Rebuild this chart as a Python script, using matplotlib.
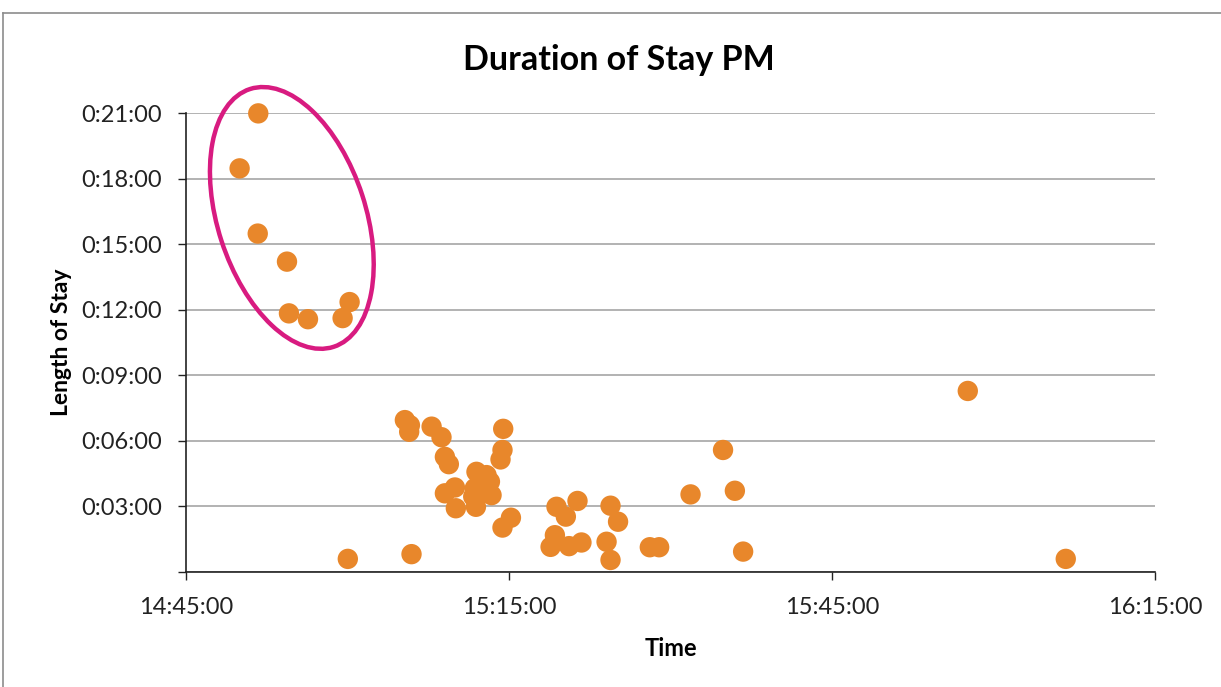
"""Scatter of afternoon arrivals against how long each visit lasted."""

import matplotlib.pyplot as plt
import matplotlib.dates as mdates
import pandas as pd
from matplotlib.patches import Ellipse
from matplotlib.ticker import FuncFormatter, MultipleLocator
from matplotlib.transforms import ScaledTranslation
from matplotlib.lines import Line2D

plt.rcParams["font.family"] = ["Lato", "DejaVu Sans"]

DAY = "2024-01-01 "

# arrival time and length of stay for each visitor
arrival = [
    "14:51:43", "14:49:59", "14:51:40", "14:54:23", "14:54:34", "14:56:20",
    "14:59:33", "15:00:12", "15:00:02",
    "15:05:20", "15:05:48", "15:05:44", "15:07:49", "15:08:44", "15:09:03",
    "15:09:25", "15:14:28", "15:14:24", "15:14:13", "15:11:59", "15:12:55",
    "15:13:14", "15:09:59", "15:09:03", "15:13:23", "15:11:50", "15:11:41",
    "15:10:04", "15:11:56", "15:15:11", "15:14:24", "15:05:57", "15:12:23",
    "15:34:53", "15:31:52", "15:35:59", "15:36:45", "15:19:25", "15:20:17",
    "15:21:22", "15:24:26", "15:25:08", "15:19:16", "15:18:52", "15:20:35",
    "15:21:44", "15:24:04", "15:24:26", "15:28:05", "15:28:57",
    "15:57:37", "16:06:43",
]
stay = [
    "0:20:59", "0:18:28", "0:15:29", "0:14:12", "0:11:50", "0:11:34",
    "0:11:37", "0:12:21", "0:00:36",
    "0:06:57", "0:06:43", "0:06:25", "0:06:39", "0:06:10", "0:05:16",
    "0:04:56", "0:06:33", "0:05:35", "0:05:09", "0:04:35", "0:04:26",
    "0:04:08", "0:03:52", "0:03:36", "0:03:31", "0:03:50", "0:03:27",
    "0:02:55", "0:02:59", "0:02:29", "0:02:02", "0:00:49", "0:04:07",
    "0:05:35", "0:03:33", "0:03:43", "0:00:56", "0:02:59", "0:02:32",
    "0:03:15", "0:03:02", "0:02:18", "0:01:41", "0:01:09", "0:01:11",
    "0:01:21", "0:01:23", "0:00:33", "0:01:08", "0:01:08",
    "0:08:17", "0:00:36",
]

x_ticks = ["14:45:00", "15:15:00", "15:45:00", "16:15:00"]

# early arrivals that stayed longest get ringed
ring_center = ("14:54:50", "0:16:12")


def to_minutes(s):
    h, m, sec = (int(p) for p in s.split(":"))
    return h * 60 + m + sec / 60


x = pd.to_datetime([DAY + t for t in arrival])
y = [to_minutes(s) for s in stay]
xt = pd.to_datetime([DAY + t for t in x_ticks])

fig = plt.figure(figsize=(12.21, 6.87), dpi=100)
ax = fig.add_axes([0.1523, 0.1674, 0.7936, 0.6681])

ax.scatter(x, y, s=215, color="#E8872B", edgecolors="none", zorder=3, clip_on=False)

ax.set_xlim(xt[0], xt[-1])
ax.set_ylim(0, 21)
ax.set_xticks(xt)
ax.xaxis.set_major_formatter(mdates.DateFormatter("%H:%M:%S"))
ax.yaxis.set_major_locator(MultipleLocator(3))
ax.yaxis.set_major_formatter(
    FuncFormatter(lambda v, _: "" if v < 1 else f"0:{int(round(v)):02d}:00"))

ax.grid(axis="y", color="#A6A6A6", linewidth=1.2)
ax.set_axisbelow(True)
for side in ("top", "right"):
    ax.spines[side].set_visible(False)
for side in ("left", "bottom"):
    ax.spines[side].set_color("#222222")
    ax.spines[side].set_linewidth(1.2)
ax.tick_params(axis="x", length=6, width=1, pad=12, labelsize=17, colors="#222222")
ax.tick_params(axis="y", length=6, width=1, pad=11, labelsize=17, colors="#222222")

fig.text(619 / 1221, 1 - 70 / 687, "Duration of Stay PM", fontsize=24.5,
         fontweight="bold", ha="center", va="baseline")
ax.set_xlabel("Time", fontsize=17, fontweight="bold", labelpad=14)
ax.set_ylabel("Length of Stay", fontsize=16.5, fontweight="bold", labelpad=7)

cx = mdates.date2num(pd.to_datetime(DAY + ring_center[0]))
cy = to_minutes(ring_center[1])
ring = Ellipse((0, 0), 1.48, 2.71, angle=18, fill=False, edgecolor="#D81B80",
               linewidth=3.2,
               transform=fig.dpi_scale_trans + ScaledTranslation(cx, cy, ax.transData),
               zorder=4, clip_on=False)
ax.add_patch(ring)

# outer chart frame
fig.add_artist(Line2D([3 / 1221, 1], [1 - 13 / 687] * 2, color="#8C8C8C", lw=1.2))
fig.add_artist(Line2D([3 / 1221] * 2, [0, 1 - 13 / 687], color="#8C8C8C", lw=1.2))

fig.savefig("out.png", dpi=100)
